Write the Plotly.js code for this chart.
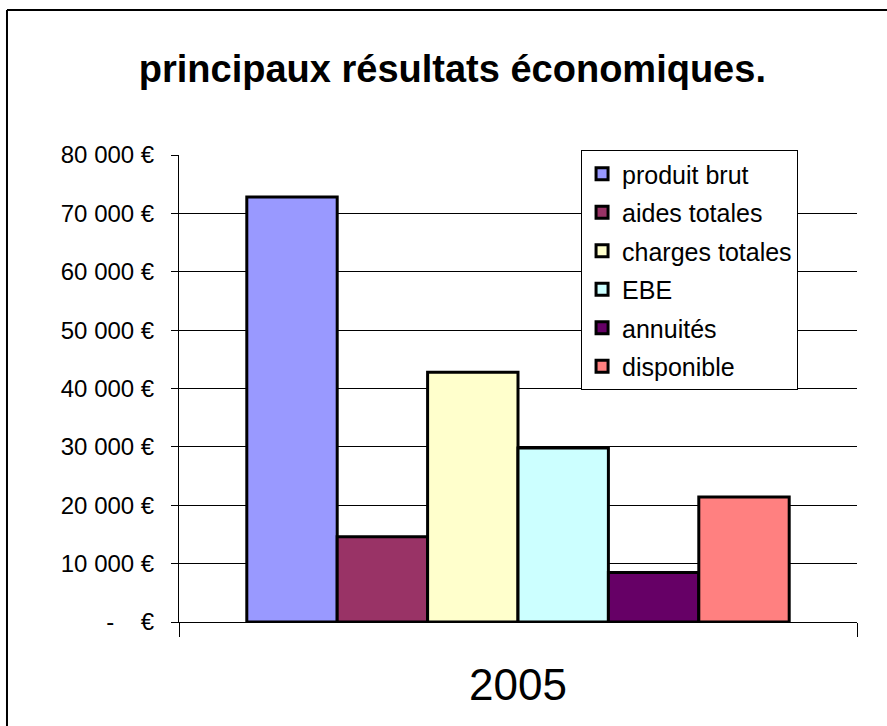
<!DOCTYPE html>
<html>
<head>
<meta charset="utf-8">
<script src="https://cdn.plot.ly/plotly-3.0.1.min.js"></script>
<style>
  body { margin: 0; background: #fff; }
  #plot { width: 887px; height: 726px; }
</style>
</head>
<body>
<div id="plot"></div>
<script>
const years = ["2005"];
const seriesNames = ["produit brut", "aides totales", "charges totales", "EBE", "annuités", "disponible"];
const seriesValues = [72800, 14600, 42800, 29800, 8500, 21400];
const yTickValues = [0, 10000, 20000, 30000, 40000, 50000, 60000, 70000, 80000];
const yTickLabels = ["-    €", "10 000 €", "20 000 €", "30 000 €", "40 000 €", "50 000 €", "60 000 €", "70 000 €", "80 000 €"];

// Excel default palette
const barColors = ["#9999FF", "#993366", "#FFFFCC", "#CCFFFF", "#660066", "#FF8080"];
const font = "Liberation Sans, Arial, sans-serif";

const traces = seriesNames.map((name, i) => ({
    type: "bar",
    name: name,
    x: years,
    y: [seriesValues[i]],
    legendgroup: "g" + i,
    marker: { color: barColors[i], line: { color: "#000", width: 3 } },
    hoverinfo: "skip"
}));

const layout = {
    width: 887,
    height: 726,
    margin: { l: 179, r: 30, t: 155, b: 104 },
    paper_bgcolor: "#fff",
    plot_bgcolor: "#fff",
    font: { family: font, color: "#000" },
    title: {
        text: "principaux résultats économiques.",
        font: { family: font, size: 38, weight: "bold", color: "#000" },
        x: 0.51, xanchor: "center",
        y: 0.906, yanchor: "middle"
    },
    barmode: "group",
    bargap: 0.2,
    bargroupgap: 0,
    xaxis: {
        type: "category",
        tickson: "boundaries",
        ticks: "outside",
        ticklen: 14,
        tickcolor: "#000",
        showline: true,
        linecolor: "#000",
        linewidth: 1,
        showgrid: false,
        ticklabelstandoff: 24,
        tickfont: { family: font, size: 44, color: "#000" },
        fixedrange: true
    },
    yaxis: {
        range: [0, 80000],
        tickvals: yTickValues,
        ticktext: yTickLabels,
        ticks: "outside",
        ticklen: 7,
        tickcolor: "#000",
        showline: true,
        linecolor: "#000",
        linewidth: 1,
        showgrid: true,
        gridcolor: "#000",
        gridwidth: 1,
        zeroline: false,
        ticklabelstandoff: 12,
        tickfont: { family: font, size: 24, color: "#000" },
        fixedrange: true
    },
    legend: {
        x: 0.593, xanchor: "left",
        y: 1.0107, yanchor: "top",
        bgcolor: "#fff",
        bordercolor: "#000",
        borderwidth: 1,
        font: { family: font, size: 25, color: "#000" },
        tracegroupgap: 3,
        itemwidth: 30
    },
    shapes: [
        // chart border (top and left edges visible)
        { type: "line", xref: "paper", yref: "paper", x0: -0.2537, x1: 1.06, y0: 1.3107, y1: 1.3107, line: { color: "#000", width: 2 } },
        { type: "line", xref: "paper", yref: "paper", x0: -0.2537, x1: -0.2537, y0: 1.3107, y1: -0.25, line: { color: "#000", width: 2 } }
    ]
};

Plotly.newPlot("plot", traces, layout, { displayModeBar: false, staticPlot: true });
</script>
</body>
</html>
